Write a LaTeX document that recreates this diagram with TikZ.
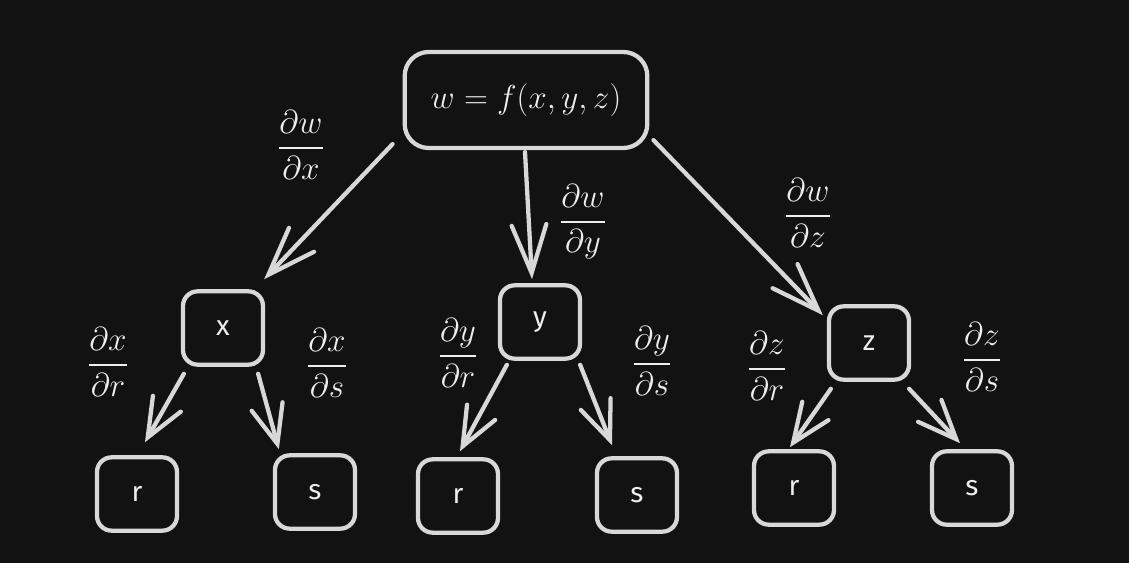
\documentclass[tikz,border=0pt]{standalone}
\usepackage{fontspec}
\usepackage{amsmath}
\newfontfamily\handfont{Fira Sans}
\usetikzlibrary{arrows.meta}
\definecolor{bg}{HTML}{121212}
\definecolor{ink}{HTML}{D8D8D8}
\definecolor{txt}{HTML}{EEEEEE}
\tikzset{
  box/.style={draw=ink, line width=3.2pt, rounded corners=11pt, minimum width=60pt, minimum height=55pt, inner sep=0pt, text=txt, font=\handfont\fontsize{21}{25}\selectfont},
  topbox/.style={box, minimum width=182pt, minimum height=72pt, rounded corners=18pt, font=\fontsize{23.5}{28}\selectfont},
  arrbig/.style={draw=ink, line width=3.2pt, line cap=round, -{Straight Barb[length=36pt,width=26pt,line cap=round]}},
  arrsmall/.style={draw=ink, line width=3.2pt, line cap=round, -{Straight Barb[length=29pt,width=24pt,line cap=round]}},
  lbl/.style={text=txt, inner sep=0pt, font=\fontsize{23.5}{28}\selectfont}
}
\begin{document}
\begin{tikzpicture}[x=0.75pt,y=-0.75pt]
\fill[bg] (0,0) rectangle (1129,563);
\useasboundingbox (0,0) rectangle (1129,563);
% nodes
\node[topbox] (top) at (526,100) {$w=f(x,y,z)$};
\node[box] (x) at (223,328) {x};
\node[box] (y) at (540,322) {y};
\node[box] (z) at (869,343) {z};
\node[box] (r1) at (137,494) {r};
\node[box] (s1) at (315,492) {s};
\node[box] (r2) at (458,496) {r};
\node[box] (s2) at (637,495) {s};
\node[box] (r3) at (794,488) {r};
\node[box] (s3) at (972,488) {s};
% labels
\node[lbl] (lwx) at (301,145) {$\dfrac{\partial w}{\partial x}$};
\node[lbl] (lwy) at (583,222) {$\dfrac{\partial w}{\partial y}$};
\node[lbl] (lwz) at (808,213) {$\dfrac{\partial w}{\partial z}$};
\node[lbl] (lxr) at (108,362) {$\dfrac{\partial x}{\partial r}$};
\node[lbl] (lxs) at (327,363) {$\dfrac{\partial x}{\partial s}$};
\node[lbl] (lyr) at (458,353) {$\dfrac{\partial y}{\partial r}$};
\node[lbl] (lys) at (652,361) {$\dfrac{\partial y}{\partial s}$};
\node[lbl] (lzr) at (767,366) {$\dfrac{\partial z}{\partial r}$};
\node[lbl] (lzs) at (982,357) {$\dfrac{\partial z}{\partial s}$};
% connectors
\draw[arrbig] ([shift={(-10,-6)}]top.south west) -- ([shift={(-1,-10)}]x.north east);
\draw[arrbig] ([shift={(-1,2)}]top.south) -- ([shift={(-8,-4)}]y.north);
\draw[arrbig] ([shift={(4,-10)}]top.south east) -- ([shift={(-4,11)}]z.north west);
\draw[arrsmall] ([shift={(3,7)}]x.south west) -- ([shift={(8,-13)}]r1.north);
\draw[arrsmall] ([shift={(-7,7)}]x.south east) -- ([shift={(6,-4)}]s1.north west);
\draw[arrsmall] ([shift={(9,4)}]y.south west) -- ([shift={(2,-6)}]r2.north);
\draw[arrsmall] ([shift={(-2,4)}]y.south east) -- ([shift={(-25,-11)}]s2.north);
\draw[arrsmall] ([shift={(4,7)}]z.south west) -- ([shift={(-4,-2)}]r3.north);
\draw[arrsmall] ([shift={(-2,7)}]z.south east) -- ([shift={(-12,-6)}]s3.north);
\end{tikzpicture}
\end{document}
